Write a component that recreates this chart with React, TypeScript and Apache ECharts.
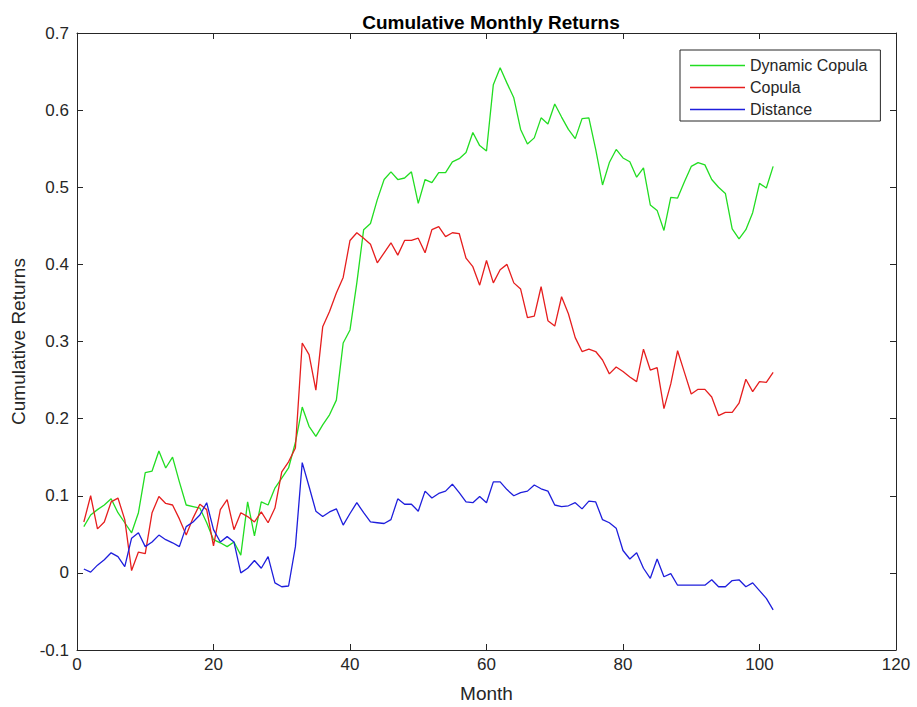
import React, { useEffect, useRef } from "react";
import * as echarts from "echarts";

const seriesNames = ["Dynamic Copula", "Copula", "Distance"];

const dynamicCopula = [
  0.06, 0.075, 0.082, 0.088, 0.096, 0.078, 0.065, 0.052, 0.078, 0.13,
  0.132, 0.158, 0.136, 0.15, 0.118, 0.088, 0.086, 0.084, 0.065, 0.043,
  0.039, 0.034, 0.04, 0.023, 0.092, 0.048, 0.092, 0.088, 0.11, 0.123,
  0.136, 0.169, 0.215, 0.19, 0.177, 0.192, 0.205, 0.224, 0.298, 0.315,
  0.376, 0.445, 0.453, 0.484, 0.51, 0.52, 0.51, 0.512, 0.52, 0.479,
  0.51, 0.506, 0.519, 0.519, 0.533, 0.537, 0.545, 0.571, 0.554, 0.547,
  0.633, 0.655, 0.635, 0.616, 0.575, 0.556, 0.564, 0.59, 0.582, 0.608,
  0.591, 0.575, 0.563, 0.589, 0.59, 0.549, 0.503, 0.532, 0.549, 0.538,
  0.533, 0.513, 0.525, 0.477, 0.47, 0.444, 0.487, 0.486, 0.507, 0.527,
  0.532, 0.529, 0.51, 0.5, 0.492, 0.446, 0.433, 0.445, 0.467, 0.505,
  0.499, 0.527,
];

const copula = [
  0.066, 0.1, 0.057, 0.066, 0.092, 0.097, 0.069, 0.003, 0.027, 0.025,
  0.078, 0.099, 0.09, 0.088, 0.07, 0.049, 0.071, 0.089, 0.082, 0.035,
  0.082, 0.095, 0.056, 0.078, 0.073, 0.066, 0.079, 0.065, 0.084, 0.131,
  0.144, 0.162, 0.298, 0.283, 0.237, 0.319, 0.339, 0.363, 0.383, 0.431,
  0.441, 0.434, 0.426, 0.402, 0.415, 0.428, 0.412, 0.431, 0.431, 0.434,
  0.415, 0.445, 0.449, 0.436, 0.441, 0.44, 0.408, 0.397, 0.373, 0.405,
  0.376, 0.393, 0.4, 0.376, 0.368, 0.331, 0.333, 0.371, 0.327, 0.32,
  0.358, 0.336, 0.305, 0.287, 0.29, 0.287, 0.276, 0.258, 0.267, 0.261,
  0.254, 0.248, 0.29, 0.263, 0.266, 0.213, 0.245, 0.288, 0.26, 0.232,
  0.238, 0.238, 0.228, 0.204, 0.208, 0.208, 0.22, 0.251, 0.235, 0.248,
  0.247, 0.26,
];

const distance = [
  0.005, 0.001, 0.01, 0.017, 0.026, 0.021, 0.008, 0.045, 0.052, 0.034,
  0.04, 0.049, 0.043, 0.039, 0.034, 0.06, 0.066, 0.075, 0.091, 0.056,
  0.04, 0.047, 0.04, 0.0, 0.006, 0.016, 0.006, 0.021, -0.013, -0.018,
  -0.017, 0.034, 0.143, 0.112, 0.08, 0.073, 0.079, 0.083, 0.062, 0.077,
  0.091, 0.078, 0.066, 0.065, 0.064, 0.069, 0.096, 0.089, 0.089, 0.08,
  0.106, 0.097, 0.103, 0.106, 0.115, 0.104, 0.092, 0.091, 0.099, 0.091,
  0.118, 0.118, 0.108, 0.1, 0.104, 0.106, 0.114, 0.109, 0.106, 0.088,
  0.086, 0.087, 0.091, 0.083, 0.093, 0.092, 0.069, 0.065, 0.058, 0.029,
  0.018, 0.026, 0.006, -0.007, 0.018, -0.005, -0.001, -0.016, -0.016, -0.016,
  -0.016, -0.016, -0.009, -0.018, -0.018, -0.01, -0.009, -0.018, -0.013, -0.023,
  -0.033, -0.048,
];

const xTicks = { min: 0, max: 120, interval: 20 };
const yTicks = { min: -0.1, max: 0.7, interval: 0.1 };

const colors = ["#22dd22", "#e61e1e", "#1e1edc"];
const FONT = "'Liberation Sans', Arial, Helvetica, sans-serif";
const AXIS_COLOR = "#262626";

function toPoints(values: number[]) {
  return values.map((v, i) => [i + 1, v]);
}

export default function App() {
  const ref = useRef<HTMLDivElement>(null);

  useEffect(() => {
    if (!ref.current) return;
    const chart = echarts.init(ref.current, null, { renderer: "svg" });

    const axisCommon = {
      axisLine: { show: true, onZero: false, lineStyle: { color: AXIS_COLOR, width: 1 } },
      axisTick: { show: true, inside: true, length: 6, lineStyle: { color: AXIS_COLOR } },
      splitLine: { show: false },
    };

    const allSeries = [dynamicCopula, copula, distance];

    chart.setOption({
      animation: false,
      backgroundColor: "#ffffff",
      title: {
        text: "Cumulative Monthly Returns",
        left: 486,
        top: 8,
        textAlign: "center",
        textStyle: { fontFamily: FONT, fontSize: 19, fontWeight: "bold", color: "#000" },
      },
      legend: {
        data: seriesNames,
        orient: "vertical",
        left: 680,
        top: 50,
        padding: [7, 13, 3, 10],
        icon: "rect",
        itemWidth: 55,
        itemHeight: 1.6,
        itemGap: 5,
        borderColor: AXIS_COLOR,
        borderWidth: 1,
        backgroundColor: "#ffffff",
        textStyle: { fontFamily: FONT, fontSize: 16, color: AXIS_COLOR, lineHeight: 17 },
        z: 10,
      },
      grid: {
        left: 77,
        top: 33,
        right: 21,
        bottom: 57,
        containLabel: false,
        outerBoundsMode: "none",
      },
      xAxis: [
        {
          type: "value",
          position: "bottom",
          min: xTicks.min,
          max: xTicks.max,
          interval: xTicks.interval,
          name: "Month",
          nameLocation: "middle",
          nameGap: 34,
          nameTextStyle: { fontFamily: FONT, fontSize: 19, color: AXIS_COLOR },
          axisLabel: { fontFamily: FONT, fontSize: 17, color: AXIS_COLOR, margin: 6 },
          ...axisCommon,
        },
        {
          type: "value",
          position: "top",
          min: xTicks.min,
          max: xTicks.max,
          interval: xTicks.interval,
          axisLabel: { show: false },
          ...axisCommon,
        },
      ],
      yAxis: [
        {
          type: "value",
          position: "left",
          min: yTicks.min,
          max: yTicks.max,
          interval: yTicks.interval,
          name: "Cumulative Returns",
          nameLocation: "middle",
          nameGap: 49,
          nameTextStyle: { fontFamily: FONT, fontSize: 19, color: AXIS_COLOR },
          axisLabel: {
            fontFamily: FONT,
            fontSize: 17,
            color: AXIS_COLOR,
            margin: 8,
            formatter: (v: number) => String(Math.round(v * 10) / 10),
          },
          ...axisCommon,
        },
        {
          type: "value",
          position: "right",
          min: yTicks.min,
          max: yTicks.max,
          interval: yTicks.interval,
          axisLabel: { show: false },
          ...axisCommon,
        },
      ],
      series: allSeries.map((vals, i) => ({
        name: seriesNames[i],
        type: "line",
        xAxisIndex: 0,
        yAxisIndex: 0,
        data: toPoints(vals),
        symbol: "none",
        showSymbol: false,
        lineStyle: { color: colors[i], width: 1.3 },
        itemStyle: { color: colors[i] },
        emphasis: { disabled: true },
      })),
    });

    return () => chart.dispose();
  }, []);

  return (
    <div
      ref={ref}
      style={{ position: "absolute", left: 0, top: 0, width: 917, height: 707 }}
    />
  );
}
